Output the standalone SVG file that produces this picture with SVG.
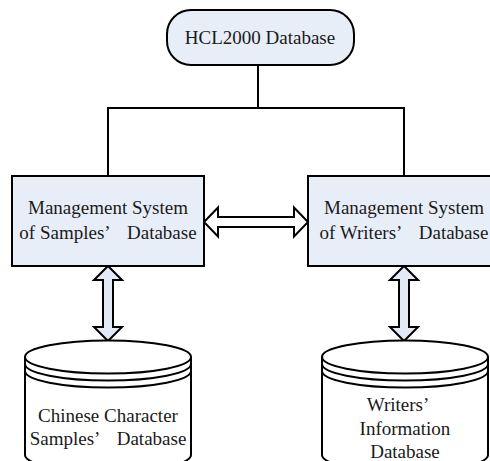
<svg xmlns="http://www.w3.org/2000/svg" width="490" height="461" viewBox="0 0 490 461">
  <style>
    .box { fill: #e8eef8; stroke: #000; stroke-width: 2; }
    .arrow { stroke: #000; stroke-width: 2; stroke-linejoin: miter; }
    .line { fill: none; stroke: #000; stroke-width: 2; }
    .cyl { fill: #fff; stroke: #000; stroke-width: 2; }
    .band { fill: none; stroke: #000; stroke-width: 2; }
    text { font-family: "Liberation Serif", "Times New Roman", serif; font-size: 19px; fill: #1a1a1a; text-anchor: middle; }
  </style>
  <rect width="490" height="461" fill="#fff"/>

  <!-- tree connectors from the top database, plus the double arrows -->
  <g id="connectors">
    <path class="line" d="M258,65 V108 M107,108 H405 M108,108 V176 M404,108 V176"/>
    <path class="arrow" fill="#fff" d="M204,222 L218,207.5 L218,217 L294,217 L294,207.5 L308,222 L294,236.5 L294,227 L218,227 L218,236.5 Z"/>
    <path class="arrow" fill="#e3eaf6" d="M108,266 L122,280 L113,280 L113,327 L122,327 L108,341 L94,327 L103,327 L103,280 L94,280 Z"/>
    <path class="arrow" fill="#e3eaf6" d="M404,266 L418,280 L409,280 L409,327 L418,327 L404,341 L390,327 L399,327 L399,280 L390,280 Z"/>
  </g>

  <g id="hcl2000">
    <rect class="box" x="167" y="10" width="187" height="55" rx="24" ry="24"/>
    <text x="260" y="44">HCL2000 Database</text>
  </g>

  <g id="samples-system">
    <rect class="box" x="12" y="176" width="192" height="90"/>
    <text x="108" y="214">Management System</text>
    <text x="108" y="239">of Samples’<tspan dx="13"> Database</tspan></text>
  </g>

  <g id="writers-system">
    <rect class="box" x="308" y="176" width="192" height="90"/>
    <text x="404" y="214">Management System</text>
    <text x="404" y="239">of Writers’<tspan dx="13"> Database</tspan></text>
  </g>

  <g id="samples-db">
    <path class="cyl" d="M25,357 V455 A83,16.5 0 0 0 191,455 V357"/>
    <ellipse class="cyl" cx="108" cy="357" rx="83" ry="16.5"/>
    <path class="band" d="M25,364 A83,16.5 0 0 0 191,364 M25,371 A83,16.5 0 0 0 191,371"/>
    <text x="108" y="422">Chinese Character</text>
    <text x="108" y="445">Samples’<tspan dx="13"> Database</tspan></text>
  </g>

  <g id="writers-db">
    <path class="cyl" d="M322,357 V455 A83,16.5 0 0 0 488,455 V357"/>
    <ellipse class="cyl" cx="405" cy="357" rx="83" ry="16.5"/>
    <path class="band" d="M322,364 A83,16.5 0 0 0 488,364 M322,371 A83,16.5 0 0 0 488,371"/>
    <text x="398" y="411">Writers’</text>
    <text x="405" y="435">Information</text>
    <text x="405" y="458">Database</text>
  </g>
</svg>
